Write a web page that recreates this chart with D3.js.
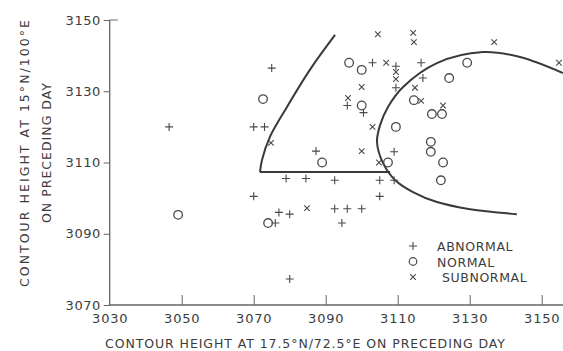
<!DOCTYPE html>
<html>
<head>
<meta charset="utf-8">
<script src="https://cdn.jsdelivr.net/npm/d3@7"></script>
<style>
  html, body { margin: 0; padding: 0; background: #fff; }
  svg { display: block; }
  text { font-family: "DejaVu Sans", sans-serif; fill: #3c3c3c; }
</style>
</head>
<body>
<svg id="chart" width="563" height="351"></svg>
<script>
// ---------- data ----------
const xTicks = [3030, 3050, 3070, 3090, 3110, 3130, 3150];
const yTicks = [3070, 3090, 3110, 3130, 3150];

const abnormal = [
  [3046.5, 3120], [3070, 3120], [3073, 3120], [3075, 3136.5], [3070, 3100.5],
  [3077, 3096], [3080, 3095.5], [3076, 3093], [3079, 3105.5], [3084.5, 3105.5],
  [3092.5, 3105], [3105, 3105], [3109, 3105], [3105, 3100.5], [3092.5, 3097],
  [3096, 3097], [3100, 3097], [3094.5, 3093], [3080, 3077.3], [3087.3, 3113.2],
  [3096, 3126], [3100.5, 3124], [3103, 3138], [3109.5, 3137], [3109.5, 3131],
  [3116.5, 3138], [3117, 3133.7], [3109, 3113]
];
const normal = [
  [3049, 3095.3], [3072.6, 3127.8], [3074, 3093], [3089, 3110], [3096.5, 3138],
  [3100, 3136], [3100, 3126], [3109.5, 3120], [3107.3, 3110], [3114.5, 3127.5],
  [3119.5, 3123.6], [3122.3, 3123.6], [3119.2, 3115.8], [3119.2, 3113],
  [3122.6, 3110], [3122, 3105], [3124.3, 3133.7], [3129.3, 3138]
];
const subnormal = [
  [3104.5, 3146], [3114.3, 3146.4], [3114.5, 3143.8], [3136.8, 3143.8], [3154.8, 3138],
  [3106.8, 3138], [3109.5, 3135.4], [3109.5, 3133.4], [3100, 3131.2], [3096.2, 3128.1],
  [3114.8, 3131], [3116.5, 3127.3], [3122.6, 3126], [3103, 3120], [3100, 3113.2],
  [3104.8, 3110], [3074.8, 3115.5], [3084.8, 3097.2]
];

// left boundary (curved part) and its horizontal base
const leftCurve = [
  [3092.6, 3145.8], [3085.6, 3136], [3079.25, 3125.6], [3074.5, 3117.2],
  [3072.3, 3110.7], [3071.75, 3107.3]
];
const leftBase = [[3071.75, 3107.3], [3107.9, 3107.3]];
// right C-shaped boundary
const rightCurve = [
  [3155.9, 3135.1], [3144, 3139.6], [3133.7, 3141], [3120.9, 3137.9], [3111.5, 3131.2],
  [3107.3, 3125.6], [3105.1, 3120.5], [3104.25, 3115.75], [3105.9, 3109.9],
  [3109.25, 3105.1], [3114.25, 3101.7], [3120.9, 3098.9], [3130.1, 3096.9], [3143.1, 3095.5]
];

const legendLabels = ["ABNORMAL", "NORMAL", "SUBNORMAL"];
const xTitle = "CONTOUR HEIGHT AT 17.5°N/72.5°E ON PRECEDING DAY";
const yTitle1 = "CONTOUR HEIGHT AT 15°N/100°E";
const yTitle2 = "ON PRECEDING DAY";

// ---------- drawing ----------
const svg = d3.select("#chart");
const x = d3.scaleLinear().domain([3030, 3150]).range([109.7, 541.7]);
const y = d3.scaleLinear().domain([3070, 3150]).range([305, 20]);

const ink = "#4a4a4a";

// axes
const xAxis = d3.axisBottom(x).tickValues(xTicks).tickFormat(d3.format("d"))
  .tickSize(-10).tickSizeOuter(0).tickPadding(9);
const gx = svg.append("g").attr("transform", `translate(0,${y(3070)})`).call(xAxis);
gx.select(".domain").remove();
gx.selectAll(".tick line").attr("stroke", "#666").attr("stroke-width", 1);
gx.selectAll(".tick").filter(d => d === 3030).select("line").remove();
gx.selectAll("text").attr("font-size", 13).attr("letter-spacing", "0.8px")
  .attr("fill", "#3c3c3c").attr("font-family", "DejaVu Sans, sans-serif");
svg.append("line")
  .attr("x1", x(3030) - 1).attr("x2", 563)
  .attr("y1", y(3070)).attr("y2", y(3070))
  .attr("stroke", "#666").attr("stroke-width", 1.3);

const yAxis = d3.axisLeft(y).tickValues(yTicks).tickFormat(d3.format("d"))
  .tickSize(6).tickSizeOuter(0).tickPadding(3);
const gy = svg.append("g").attr("transform", `translate(${x(3030)},0)`).call(yAxis);
gy.select(".domain").remove();
gy.selectAll(".tick line").attr("stroke", "#666").attr("stroke-width", 1);
gy.selectAll("text").attr("font-size", 13).attr("letter-spacing", "0.5px")
  .attr("fill", "#3c3c3c").attr("font-family", "DejaVu Sans, sans-serif");
svg.append("line")
  .attr("x1", x(3030)).attr("x2", x(3030))
  .attr("y1", y(3150)).attr("y2", y(3070))
  .attr("stroke", "#666").attr("stroke-width", 1.3);
// small tick pointing inward at top
svg.append("line")
  .attr("x1", x(3030)).attr("x2", x(3030) + 8)
  .attr("y1", y(3150)).attr("y2", y(3150))
  .attr("stroke", "#666").attr("stroke-width", 1);

// titles
svg.append("text")
  .attr("x", 105).attr("y", 348)
  .attr("font-size", 12.5)
  .attr("textLength", 400).attr("lengthAdjust", "spacing")
  .text(xTitle);

svg.append("text")
  .attr("transform", "translate(29,287) rotate(-90)")
  .attr("font-size", 12.5)
  .attr("textLength", 267).attr("lengthAdjust", "spacing")
  .text(yTitle1);
svg.append("text")
  .attr("transform", "translate(51,223) rotate(-90)")
  .attr("font-size", 12.5)
  .attr("textLength", 140).attr("lengthAdjust", "spacing")
  .text(yTitle2);

// boundary curves
const line = d3.line().x(d => x(d[0])).y(d => y(d[1]));
svg.append("path").datum(leftCurve)
  .attr("d", line.curve(d3.curveCatmullRom.alpha(0.5)))
  .attr("fill", "none").attr("stroke", "#3a3a3a").attr("stroke-width", 2);
svg.append("path").datum(leftBase)
  .attr("d", d3.line().x(d => x(d[0])).y(d => y(d[1]))(leftBase))
  .attr("fill", "none").attr("stroke", "#3a3a3a").attr("stroke-width", 2);
svg.append("path").datum(rightCurve)
  .attr("d", d3.line().x(d => x(d[0])).y(d => y(d[1])).curve(d3.curveCatmullRom.alpha(0.5))(rightCurve))
  .attr("fill", "none").attr("stroke", "#3a3a3a").attr("stroke-width", 2);

// markers
const plusPath = (cx, cy, s) => `M${cx - s},${cy}h${2 * s}M${cx},${cy - s}v${2 * s}`;
const crossPath = (cx, cy, s) => `M${cx - s},${cy - s}l${2 * s},${2 * s}M${cx + s},${cy - s}l${-2 * s},${2 * s}`;

svg.append("g").selectAll("path").data(abnormal).join("path")
  .attr("d", d => plusPath(x(d[0]), y(d[1]), 4))
  .attr("stroke", ink).attr("stroke-width", 1.1).attr("fill", "none");
svg.append("g").selectAll("circle").data(normal).join("circle")
  .attr("cx", d => x(d[0])).attr("cy", d => y(d[1])).attr("r", 4.3)
  .attr("stroke", ink).attr("stroke-width", 1.3).attr("fill", "none");
svg.append("g").selectAll("path").data(subnormal).join("path")
  .attr("d", d => crossPath(x(d[0]), y(d[1]), 2.8))
  .attr("stroke", ink).attr("stroke-width", 1.1).attr("fill", "none");

// legend
const lg = svg.append("g");
const lgX = 413, lgY0 = 246, lgDy = 15.5;
legendLabels.forEach((lab, i) => {
  const cy = lgY0 + i * lgDy;
  if (i === 0) lg.append("path").attr("d", plusPath(lgX, cy, 4)).attr("stroke", ink).attr("stroke-width", 1.1);
  if (i === 1) lg.append("circle").attr("cx", lgX).attr("cy", cy).attr("r", 3.8)
    .attr("stroke", ink).attr("stroke-width", 1.2).attr("fill", "none");
  if (i === 2) lg.append("path").attr("d", crossPath(lgX, cy, 2.8)).attr("stroke", ink).attr("stroke-width", 1.1);
  lg.append("text").attr("x", i === 2 ? 442 : 437).attr("y", cy + 5)
    .attr("font-size", 12.5).attr("letter-spacing", "0.6px").text(lab);
});
</script>
</body>
</html>
